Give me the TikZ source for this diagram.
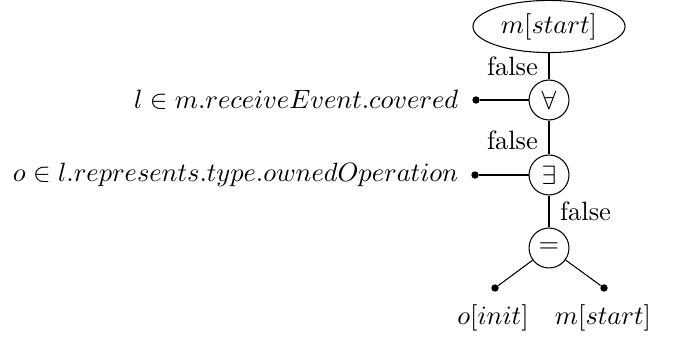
\documentclass[tikz,border=0pt]{standalone}
\usetikzlibrary{shapes.geometric}
\begin{document}
\begin{tikzpicture}[x=0.378pt,y=-0.378pt,
  op/.style={draw,circle,minimum size=15.1pt,inner sep=0pt},
  root/.style={draw,ellipse,minimum width=57.5pt,minimum height=19.7pt,inner sep=0pt},
  leaf/.style={fill,circle,minimum size=2.8pt,inner sep=0pt},
  txt/.style={inner sep=0pt},
  every path/.style={line width=0.4pt}]
\useasboundingbox (0,0) rectangle (677,337);
% tree of operators
\node[root] (start) at (549,26.5) {$m[start]$};
\node[op] (all) at (549,100) {$\forall$};
\node[op] (ex) at (549,175) {$\exists$};
\node[op] (eq) at (549,248) {$=$};
% leaves
\node[leaf] (d1) at (476,100) {};
\node[leaf] (d2) at (475,175) {};
\node[leaf] (d3) at (495,288) {};
\node[leaf] (d4) at (604,288) {};
\node[txt,anchor=east] (t1) at (459,100) {$l \in m.receiveEvent.covered$};
\node[txt,anchor=east] (t2) at (459,175) {$o \in l.represents.type.ownedOperation$};
\node[txt] (t3) at (493,318) {$o[init]$};
\node[txt] (t4) at (603,318) {$m[start]$};
% connectors
\draw (start) -- node[left,inner sep=4pt] {false} (all);
\draw (all) -- node[left,inner sep=4pt,yshift=-1pt] {false} (ex);
\draw (ex) -- node[right,inner sep=4pt] {false} (eq);
\draw (d1) -- (all);
\draw (d2) -- (ex);
\draw (eq) -- (d3);
\draw (eq) -- (d4);
\end{tikzpicture}
\end{document}
